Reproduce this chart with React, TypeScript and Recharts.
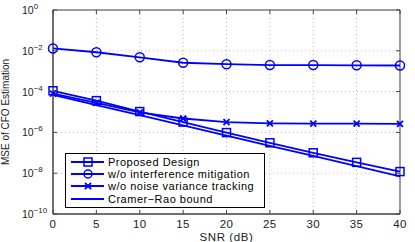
import React from "react";
import {
  LineChart,
  Line,
  XAxis,
  YAxis,
  CartesianGrid,
  ReferenceArea,
} from "recharts";

const snr = [0, 5, 10, 15, 20, 25, 30, 35, 40];
const proposed = [1.1e-4, 3.6e-5, 1.05e-5, 3.2e-6, 9.8e-7, 3.1e-7, 1.0e-7, 3.4e-8, 1.2e-8];
const noInterference = [1.3e-2, 8.5e-3, 4.8e-3, 2.6e-3, 2.2e-3, 2.0e-3, 2.0e-3, 1.95e-3, 1.9e-3];
const noNoiseTracking = [8e-5, 2.8e-5, 9.5e-6, 4.8e-6, 3.2e-6, 2.8e-6, 2.7e-6, 2.7e-6, 2.6e-6];
const crb = [7e-5, 2.2e-5, 7e-6, 2.2e-6, 7e-7, 2.2e-7, 7e-8, 2.2e-8, 7e-9];

const xTicks = [0, 5, 10, 15, 20, 25, 30, 35, 40];
const yTicks = [1, 1e-2, 1e-4, 1e-6, 1e-8, 1e-10];
const yExponents = ["0", "\u22122", "\u22124", "\u22126", "\u22128", "\u221210"];

const labels = [
  "Proposed Design",
  "w/o interference mitigation",
  "w/o noise variance tracking",
  "Cramer\u2212Rao bound",
];

const BLUE = "#0000ff";
const FONT = "'Liberation Sans', Arial, Helvetica, sans-serif";

const data = snr.map((s, i) => ({
  snr: s,
  proposed: proposed[i],
  noInterference: noInterference[i],
  noNoiseTracking: noNoiseTracking[i],
  crb: crb[i],
}));

const SquareDot = (props: any) => {
  const { cx, cy, index } = props;
  if (cx == null || cy == null) return null;
  return (
    <rect key={`s-${index}`} x={cx - 4} y={cy - 4} width={8} height={8} fill="none" stroke={BLUE} strokeWidth={1.5} />
  );
};

const CircleDot = (props: any) => {
  const { cx, cy, index } = props;
  if (cx == null || cy == null) return null;
  return <circle key={`c-${index}`} cx={cx} cy={cy} r={4.5} fill="none" stroke={BLUE} strokeWidth={1.5} />;
};

const CrossDot = (props: any) => {
  const { cx, cy, index } = props;
  if (cx == null || cy == null) return null;
  const d = 3;
  return (
    <path
      key={`x-${index}`}
      d={`M${cx - d},${cy - d}L${cx + d},${cy + d}M${cx - d},${cy + d}L${cx + d},${cy - d}`}
      stroke={BLUE}
      strokeWidth={1.8}
      fill="none"
    />
  );
};

const YTick = (props: any) => {
  const { y, payload } = props;
  const idx = yTicks.indexOf(payload.value);
  return (
    <g>
      <line x1={53} y1={y} x2={57} y2={y} stroke="#444" />
      <line x1={396} y1={y} x2={400} y2={y} stroke="#444" />
      <text x={22} y={y + 4} fontSize={10.5} fill="#222" fontFamily={FONT} textAnchor="start">
        <tspan>10</tspan>
        <tspan dy={-5} fontSize={8}>{yExponents[idx]}</tspan>
      </text>
    </g>
  );
};

const XTick = (props: any) => {
  const { x, y, payload } = props;
  return (
    <g>
      <line x1={x} y1={214} x2={x} y2={210} stroke="#444" />
      <line x1={x} y1={10} x2={x} y2={14} stroke="#444" />
      <text x={x} y={y + 8} fontSize={11.5} fill="#222" fontFamily={FONT} textAnchor="middle" letterSpacing={0.4}>
        {payload.value}
      </text>
    </g>
  );
};

const markers = [
  (cx: number, cy: number) => <rect x={cx - 4} y={cy - 4} width={8} height={8} fill="none" stroke={BLUE} strokeWidth={1.5} />,
  (cx: number, cy: number) => <circle cx={cx} cy={cy} r={4} fill="none" stroke={BLUE} strokeWidth={1.5} />,
  (cx: number, cy: number) => (
    <path d={`M${cx - 3},${cy - 3}L${cx + 3},${cy + 3}M${cx - 3},${cy + 3}L${cx + 3},${cy - 3}`} stroke={BLUE} strokeWidth={1.8} />
  ),
  () => null,
];

// legend drawn outside the chart so it doesn't eat plot height
const LegendBox = () => (
  <div
    style={{
      position: "absolute",
      left: 65,
      top: 153,
      border: "1px solid #000",
      background: "#fff",
      width: 198,
      padding: "2px 0 2px 0",
      fontFamily: FONT,
      fontSize: 11,
      letterSpacing: "0.5px",
      color: "#000",
      lineHeight: "12.2px",
    }}
  >
    {labels.map((l, i) => (
      <div key={l} style={{ display: "flex", alignItems: "center", height: 12.2 }}>
        <svg width={40} height={12} style={{ marginLeft: 2, flexShrink: 0 }}>
          <line x1={3} y1={6} x2={36} y2={6} stroke={BLUE} strokeWidth={1.8} />
          {markers[i](20, 6)}
        </svg>
        <span style={{ whiteSpace: "nowrap" }}>{l}</span>
      </div>
    ))}
  </div>
);

export default function App() {
  return (
    <div style={{ position: "absolute", left: 0, top: 0, width: 415, height: 242, background: "#fff" }}>
      <LineChart width={415} height={242} data={data} margin={{ top: 10, right: 15, bottom: 0, left: 0 }}>
        <CartesianGrid stroke="#bbb" strokeDasharray="1 3" />
        <XAxis
          dataKey="snr"
          type="number"
          domain={[0, 40]}
          ticks={xTicks}
          height={28}
          axisLine={{ stroke: "#444" }}
          tickLine={false}
          tickMargin={0}
          tick={<XTick />}
          label={{ value: "SNR (dB)", position: "insideBottom", offset: 1, fontSize: 11.5, fill: "#222", fontFamily: FONT, letterSpacing: 0.6 }}
        />
        <YAxis
          scale="log"
          domain={[1e-10, 1]}
          ticks={yTicks}
          width={53}
          allowDataOverflow
          axisLine={{ stroke: "#444" }}
          tickLine={false}
          tick={<YTick />}
          label={{ value: "MSE of CFO Estimation", angle: -90, position: "insideLeft", offset: 5, fontSize: 10, fill: "#222", fontFamily: FONT, style: { textAnchor: "middle" } }}
        />
        <ReferenceArea x1={0} x2={40} y1={1e-10} y2={1} fill="none" stroke="#444" strokeWidth={1} ifOverflow="visible" />
        <Line dataKey="crb" stroke={BLUE} strokeWidth={1.8} dot={false} isAnimationActive={false} />
        <Line dataKey="noNoiseTracking" stroke={BLUE} strokeWidth={1.8} dot={<CrossDot />} isAnimationActive={false} />
        <Line dataKey="noInterference" stroke={BLUE} strokeWidth={1.8} dot={<CircleDot />} isAnimationActive={false} />
        <Line dataKey="proposed" stroke={BLUE} strokeWidth={1.8} dot={<SquareDot />} isAnimationActive={false} />
      </LineChart>
      <LegendBox />
    </div>
  );
}
